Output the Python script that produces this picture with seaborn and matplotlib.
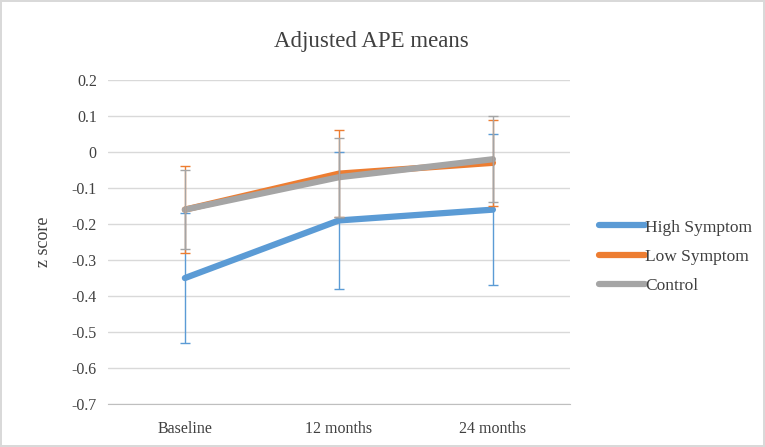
import seaborn as sns
import matplotlib.pyplot as plt
import pandas as pd

# values
timepoints = ["Baseline", "12 months", "24 months"]
groups = ["High Symptom", "Low Symptom", "Control"]
high_means = [-0.35, -0.19, -0.16]
high_err = [0.18, 0.19, 0.21]
low_means = [-0.16, -0.06, -0.03]
low_err = [0.12, 0.12, 0.12]
control_means = [-0.16, -0.07, -0.02]
control_err = [0.11, 0.11, 0.12]
yticks = [0.2, 0.1, 0, -0.1, -0.2, -0.3, -0.4, -0.5, -0.6, -0.7]

colors = {"High Symptom": "#5B9BD5", "Low Symptom": "#ED7D31", "Control": "#A5A5A5"}

rows = []
for g, m in zip(groups, [high_means, low_means, control_means]):
    for t, v in zip(timepoints, m):
        rows.append({"group": g, "time": t, "score": v})
df = pd.DataFrame(rows)

sns.set_style("white")
plt.rcParams['font.family'] = ['Liberation Serif', 'DejaVu Serif']

fig = plt.figure(figsize=(7.65, 4.47), dpi=100)
fig.patch.set_edgecolor("#d9d9d9")
fig.patch.set_linewidth(1.5)
ax = fig.add_axes([0.141, 0.096, 0.604, 0.725])

# thick lines
sns.lineplot(data=df, x="time", y="score", hue="group", palette=colors,
             hue_order=groups, sort=False, linewidth=4.5, ax=ax,
             solid_capstyle="round")

# error bars
for g, m, e in zip(groups, [high_means, low_means, control_means],
                   [high_err, low_err, control_err]):
    ax.errorbar(range(len(timepoints)), m, yerr=e, fmt="none",
                ecolor=colors[g], elinewidth=1, capsize=3.4, capthick=1)

ax.set_xlim(-0.5, 2.5)
ax.set_ylim(-0.7, 0.2)
ax.set_yticks(yticks)
ax.set_yticklabels([("%g" % v) for v in yticks])
ax.yaxis.grid(True, color="#d9d9d9", linewidth=1)
ax.set_axisbelow(True)
for s in ["top", "right", "left"]:
    ax.spines[s].set_visible(False)
ax.spines["bottom"].set_color("#bfbfbf")
ax.tick_params(axis="y", length=0, labelsize=11.5, colors="#404040", pad=8)
ax.tick_params(axis="x", length=0, labelsize=11.5, colors="#404040", pad=12)

ax.set_xlabel("")
ax.set_ylabel("z score", fontsize=13, color="#404040", labelpad=14)
fig.text(0.486, 0.907, "Adjusted APE means", ha="center", va="center",
         fontsize=16.5, color="#404040")

ax.legend(loc="center left", bbox_to_anchor=(1.03, 0.455), frameon=False,
          fontsize=12.5, handlelength=2.6, handletextpad=0.05, labelspacing=0.75,
          labelcolor="#404040")

fig.savefig("out.png", dpi=100)
